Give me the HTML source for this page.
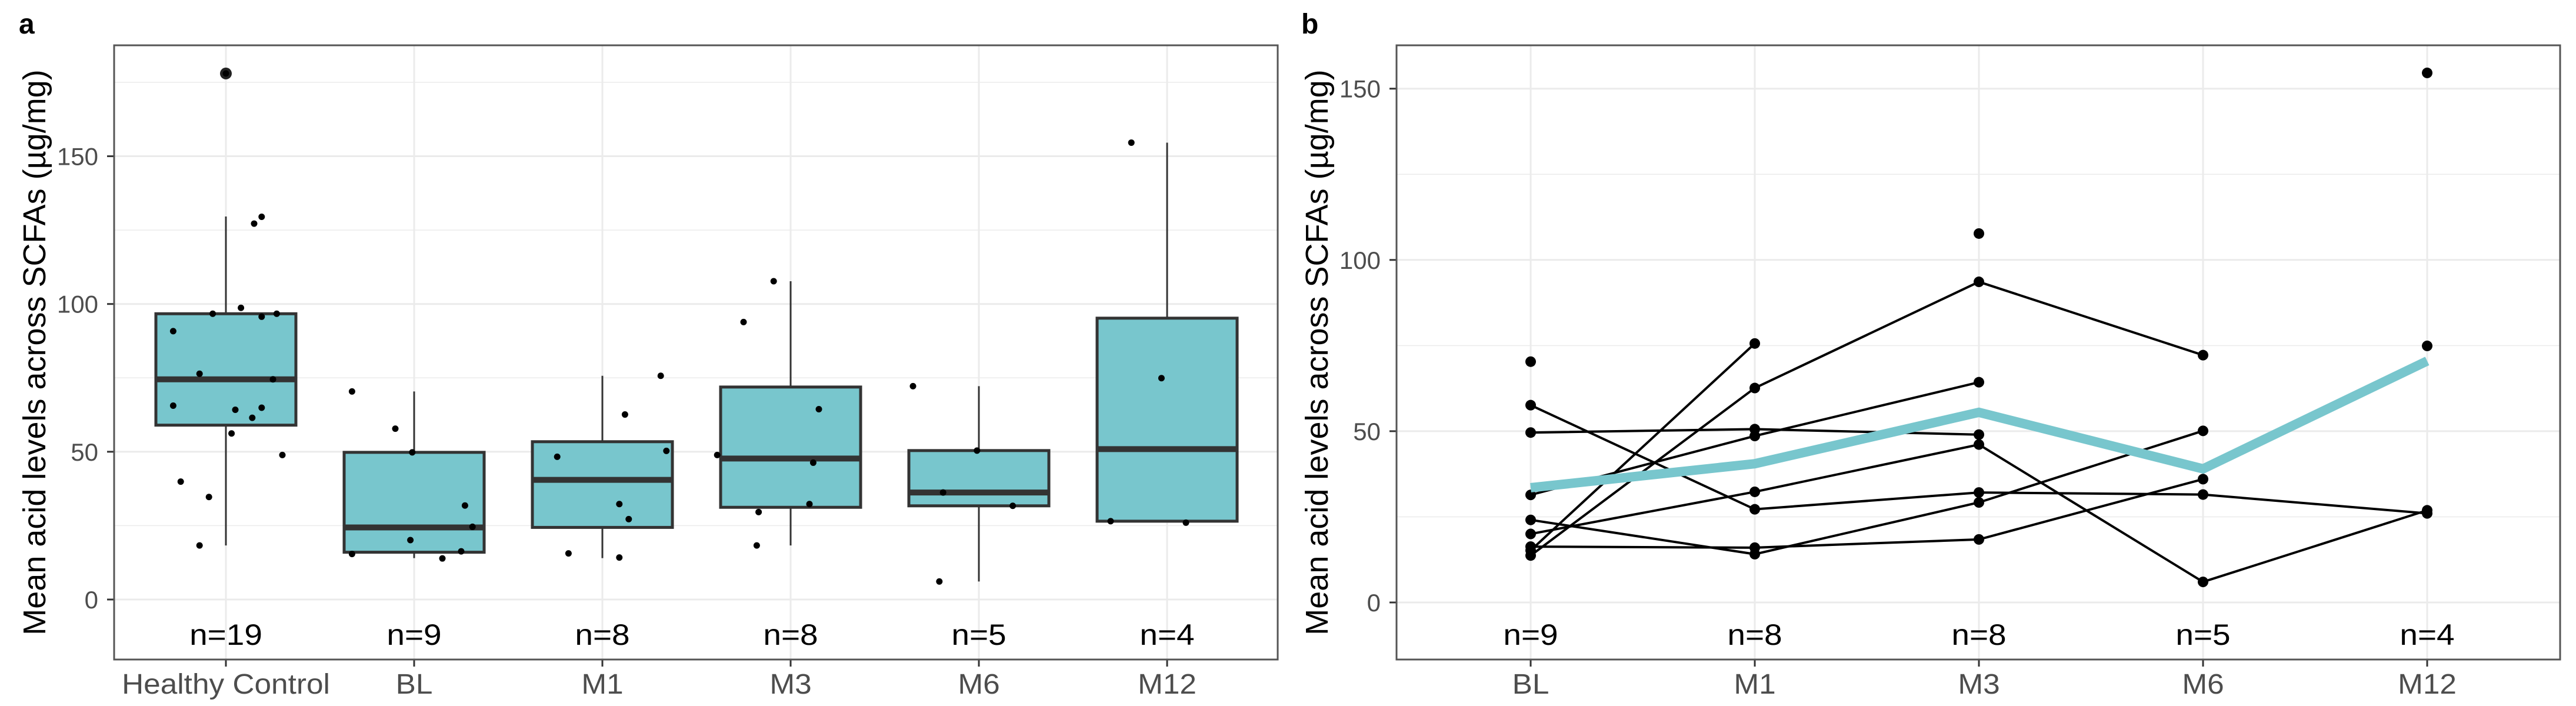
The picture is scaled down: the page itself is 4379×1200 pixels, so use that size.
<!DOCTYPE html>
<html><head><meta charset="utf-8"><style>
html,body{margin:0;padding:0;background:#fff}
svg{display:block;font-family:"Liberation Sans",sans-serif}
</style></head><body>
<svg id="c" width="4379" height="1200" xmlns="http://www.w3.org/2000/svg"></svg>
<script>
// ---- Panel a data ----
const catsA = ["Healthy Control","BL","M1","M3","M6","M12"];
const countsA = ["n=19","n=9","n=8","n=8","n=5","n=4"];
const lowW = [18.3,14,14,18.3,6.1,26.5];
const q1s = [59,16,24.4,31.2,31.7,26.5];
const meds = [74.5,24.4,40.5,47.7,36.2,50.9];
const q3s = [96.7,49.8,53.4,71.9,50.4,95.2];
const highW = [129.6,70.4,75.7,107.7,72.2,154.6];
const outlierVals = [178];
const outlierCats = [0];
const jitCat = [0,0,0,0,0,0,0,0,0,0,0,0,0,0,0,0,0,0,0, 1,1,1,1,1,1,1,1,1, 2,2,2,2,2,2,2,2, 3,3,3,3,3,3,3,3, 4,4,4,4,4, 5,5,5,5];
const jitOff = [0,0.19,0.15,-0.07,0.08,0.19,0.27,-0.28,-0.14,0.25,-0.28,0.05,0.19,0.14,0.03,0.3,-0.24,-0.09,-0.14,
 -0.33,-0.1,-0.01,0.27,0.31,-0.02,0.25,-0.33,0.15,
 0.31,0.12,0.34,-0.24,0.09,0.14,-0.18,0.09,
 -0.09,-0.25,0.15,-0.39,0.12,0.1,-0.17,-0.18,
 -0.35,-0.01,-0.19,0.18,-0.21,
 -0.19,-0.03,-0.3,0.1];
const jitVal = [178,129.5,127.2,96.7,98.7,95.7,96.7,90.8,76.4,74.5,65.6,64.2,64.9,61.5,56.2,48.9,39.9,34.7,18.3,
 70.4,57.8,49.8,31.8,24.6,20.1,16.3,15.4,13.9,
 75.7,62.6,50.3,48.3,32.3,27.2,15.6,14.2,
 107.7,93.9,64.4,48.9,46.3,32.3,29.6,18.3,
 72.2,50.4,36.2,31.7,6.1,
 154.6,74.9,26.5,26];
const ticksA = [0,50,100,150];
// ---- Panel b data ----
const catsB = ["BL","M1","M3","M6","M12"];
const countsB = ["n=9","n=8","n=8","n=5","n=4"];
const subj1 = [15.2,75.6,null,null,null];
const subj2 = [49.6,50.6,49,null,null];
const subj3 = [57.6,27.2,32.1,31.5,26];
const subj4 = [31.4,48.6,64.3,null,null];
const subj5 = [13.7,62.6,93.6,72.2,null];
const subj6 = [20,32.3,46.1,6,26.9];
const subj7 = [24.1,14.1,29.2,50.1,null];
const subj8 = [16.3,16,18.4,36,null];
const subj9 = [70.3,null,107.7,null,74.9];
const subj10 = [null,null,null,null,154.6];
const meanB = [33.5,40.5,55.5,39,70.5];
const ticksB = [0,50,100,150];

const NS="http://www.w3.org/2000/svg", svg=document.getElementById('c');
function el(t,a,p){const e=document.createElementNS(NS,t);for(const k in a)e.setAttribute(k,a[k]);(p||svg).appendChild(e);return e;}

function panel(ox,y0,unit,cats,counts,xf,ticks,letter,name){
  const L=ox+194,R=ox+2172,T=77,B=1121;
  const g=el('g',{});
  
  
  const y=v=>y0-v*unit;
  for(let v=25;v<=175;v+=50){const yy=y(v);if(yy>T&&yy<B)el('line',{x1:L,x2:R,y1:yy,y2:yy,stroke:'#ebebeb','stroke-width':1.5},g);}
  ticks.forEach(v=>{el('line',{x1:L,x2:R,y1:y(v),y2:y(v),stroke:'#ebebeb','stroke-width':3},g);});
  cats.forEach((c,i)=>el('line',{x1:xf(i),x2:xf(i),y1:T,y2:B,stroke:'#ebebeb','stroke-width':3},g));
  ticks.forEach(v=>{
    el('line',{x1:L-12,x2:L,y1:y(v),y2:y(v),stroke:'#333','stroke-width':3},g);
    const t=el('text',{x:L-27,y:y(v)+15,'text-anchor':'end','font-size':42,fill:'#4d4d4d'},g);t.textContent=v;
    
    
  });
  cats.forEach((c,i)=>{
    el('line',{x1:xf(i),x2:xf(i),y1:B,y2:B+12,stroke:'#333','stroke-width':3},g);
    const t=el('text',{x:0,y:0,'text-anchor':'middle','font-size':48,fill:'#4d4d4d',transform:`translate(${xf(i)},1179) scale(1.07,1)`},g);t.textContent=c;
    
    
    const n=el('text',{x:0,y:0,'text-anchor':'middle','font-size':50,fill:'#000',transform:`translate(${xf(i)},1096) scale(1.1,1)`},g);n.textContent=counts[i];
    
    
  });
  const yt=el('text',{x:0,y:0,'text-anchor':'middle','font-size':54,fill:'#000',transform:`translate(${ox+77},${(T+B)/2}) rotate(-90)`},g);
  yt.textContent='Mean acid levels across SCFAs (µg/mg)';
  
  
  const lt=el('text',{x:ox+32,y:57,'font-size':48,'font-weight':'bold',fill:'#000'},g);lt.textContent=letter;
  
  
  return {g,y,L,R,T,B};
}

// Panel a
const xa=i=>384+i*320;
const pa=panel(0,1019,5.023,catsA,countsA,xa,ticksA,'a','panel-a');
catsA.forEach((c,i)=>{
  const x=xa(i),w=119;
  el('line',{x1:x,x2:x,y1:pa.y(highW[i]),y2:pa.y(lowW[i]),stroke:'#333','stroke-width':3},pa.g);
  const r=el('rect',{x:x-w,y:pa.y(q3s[i]),width:2*w,height:pa.y(q1s[i])-pa.y(q3s[i]),fill:'#78c6cd',stroke:'#333','stroke-width':5},pa.g);
  
  
  el('line',{x1:x-w,x2:x+w,y1:pa.y(meds[i]),y2:pa.y(meds[i]),stroke:'#333','stroke-width':10},pa.g);
});
outlierVals.forEach((v,k)=>{const o=el('circle',{cx:xa(outlierCats[k]),cy:pa.y(v),r:10,fill:'#222'},pa.g);
  
  });
jitVal.forEach((v,k)=>{const p=el('circle',{cx:xa(jitCat[k])+jitOff[k]*320,cy:pa.y(v),r:5.5,fill:'#000'},pa.g);
  
  });
el('rect',{x:pa.L,y:pa.T,width:pa.R-pa.L,height:pa.B-pa.T,fill:'none',stroke:'#555','stroke-width':3},pa.g);

// Panel b
const xb=i=>2602+i*381;
const pb=panel(2180,1024,5.822,catsB,countsB,xb,ticksB,'b','panel-b');
[subj1,subj2,subj3,subj4,subj5,subj6,subj7,subj8,subj9,subj10].forEach((s,si)=>{
  let d='',prev=false;
  s.forEach((v,i)=>{if(v===null){prev=false;return;}d+=(prev?'L':'M')+xb(i)+' '+pb.y(v)+' ';prev=true;});
  if(d.includes('L')){const p=el('path',{d,fill:'none',stroke:'#000','stroke-width':4},pb.g);
    
    }
  s.forEach((v,i)=>{if(v===null)return;const c=el('circle',{cx:xb(i),cy:pb.y(v),r:9,fill:'#000'},pb.g);
    
    });
});
const md=meanB.map((v,i)=>(i?'L':'M')+xb(i)+' '+pb.y(v)).join(' ');
const ml=el('path',{d:md,fill:'none',stroke:'#78c6cd','stroke-width':16},pb.g);


el('rect',{x:pb.L,y:pb.T,width:pb.R-pb.L,height:pb.B-pb.T,fill:'none',stroke:'#555','stroke-width':3},pb.g);
</script>
</body></html>
